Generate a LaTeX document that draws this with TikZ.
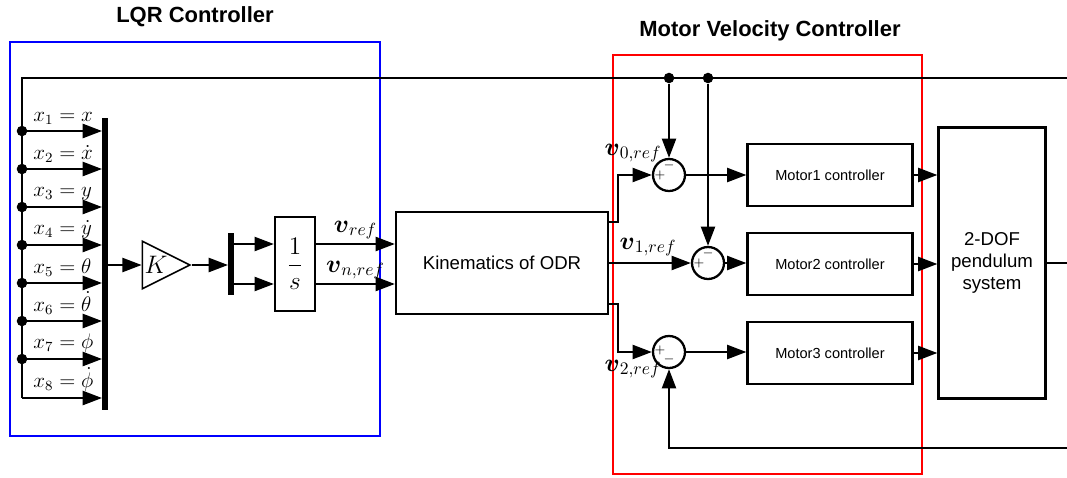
\documentclass[tikz,border=0pt]{standalone}
\usepackage{fontspec}
\usepackage{amsmath}
\setsansfont{Liberation Sans}
\usetikzlibrary{arrows.meta,shapes.geometric}

\tikzset{
  sig/.style={-{Triangle[length=11pt,width=8pt]}, line width=1.3pt},
  wire/.style={line width=1.3pt},
  blk/.style={draw, line width=1.3pt, inner sep=0pt,
    font=\sffamily\fontsize{8.3}{10}\selectfont},
  sumc/.style={draw, circle, line width=1.3pt, minimum size=0.64cm, inner sep=0pt},
  jdot/.style={circle, fill, inner sep=0pt, minimum size=6pt},
  busbar/.style={fill, inner sep=0pt, minimum width=3pt},
  sgn/.style={font=\fontsize{7}{7}\selectfont, inner sep=0pt},
  ttl/.style={font=\sffamily\bfseries\fontsize{12.5}{15}\selectfont},
  vlbl/.style={font=\Large, inner sep=1pt},
}

\begin{document}
\begin{tikzpicture}[x=0.02cm,y=-0.02cm]
\useasboundingbox (0,0) rectangle (1067,477);

% Controller frames
\draw[blue, line width=0.7pt] (10,42) rectangle (380,436);
\draw[red, line width=0.7pt] (613,55) rectangle (922,474);
\node[ttl] (lqrttl) at (195,17) {LQR Controller};
\node[ttl] (mvcttl) at (770,31) {Motor Velocity Controller};

% Loose ends at the picture edge
\coordinate (fbtl) at (22,78);
\coordinate (fbtr) at (1067,78);
\coordinate (fbbr) at (1067,448);
\coordinate (pout) at (1067,263);

% State mux
\node[busbar, minimum height=5.84cm] (bus1) at (105,264) {};
\foreach \i/\y/\lbl in {1/131/x, 2/169/\dot{x}, 3/207/y, 4/245/\dot{y},
    5/283/\theta, 6/321/\dot{\theta}, 7/359/\phi, 8/398/\dot{\phi}}{
  \coordinate (d\i) at (22,\y);
  \draw[sig] (d\i) -- (d\i -| bus1.west);
  \node[anchor=south west, inner sep=0pt, font=\fontsize{11.5}{12}\selectfont]
    (l\i) at (33,{\y-6}) {$x_{\i}=\lbl$};
}
\foreach \i in {1,...,7}
  \node[jdot] at (d\i) {};
\draw[wire] (fbtr) -- (fbtl) -- (d8);

% Gain and integrator
\node[draw, isosceles triangle, isosceles triangle stretches, line width=0.9pt,
  minimum width=0.95cm, minimum height=0.95cm, inner sep=0pt, anchor=apex,
  font=\Large] (gain) at (192,265) {$K$};
\node[busbar, minimum height=1.24cm] (bus2) at (231,264) {};
\node[blk, minimum width=0.8cm, minimum height=1.88cm, font=\Large] (integ)
  at (295,264) {$\displaystyle\frac{1}{s}$};
\draw[sig] (bus1.east |- gain.west) -- (gain.west);
\draw[sig] (gain.apex) -- (gain.apex -| bus2.west);
\draw[sig] ([yshift=0.4cm]bus2.east) -- ([yshift=0.4cm]bus2.east -| integ.west);
\draw[sig] ([yshift=-0.4cm]bus2.east) -- ([yshift=-0.4cm]bus2.east -| integ.west);

% Kinematics
\node[blk, minimum width=4.24cm, minimum height=2.04cm,
  font=\sffamily\fontsize{10.6}{12}\selectfont] (kin) at (502,263) {Kinematics of ODR};
\draw[sig] ([yshift=0.4cm]integ.east) -- ([yshift=0.4cm]integ.east -| kin.west)
  node[vlbl, midway, above=1pt] {$\boldsymbol{v}_{ref}$};
\draw[sig] ([yshift=-0.4cm]integ.east) -- ([yshift=-0.4cm]integ.east -| kin.west)
  node[vlbl, midway, above=1pt] {$\boldsymbol{v}_{n,ref}$};

% Summing junctions
\node[sumc] (s1) at (669,175) {};
\node[sumc] (s2) at (708,263) {};
\node[sumc] (s3) at (669,352) {};
\node[sgn] at ([xshift=-0.18cm]s1.center) {$+$};
\node[sgn] at ([yshift=0.19cm]s1.center) {$-$};
\node[sgn] at ([xshift=-0.18cm]s2.center) {$+$};
\node[sgn] at ([yshift=0.19cm]s2.center) {$-$};
\node[sgn] at ([xshift=-0.18cm,yshift=0.04cm]s3.center) {$+$};
\node[sgn] at ([yshift=-0.14cm]s3.center) {$-$};

\draw[sig] ([yshift=0.82cm]kin.east) -- ++(9,0) |- (s1.west);
\draw[sig] (kin.east) -- (s2.west);
\draw[sig] ([yshift=-0.82cm]kin.east) -- ++(9,0) |- (s3.west);
\node[vlbl] (v0) at (633,153) {$\boldsymbol{v}_{0,ref}$};
\node[vlbl] (v1) at (648,247) {$\boldsymbol{v}_{1,ref}$};
\node[vlbl] (v2) at (633,369) {$\boldsymbol{v}_{2,ref}$};

% Feedback into the junctions
\node[jdot] (f1) at (s1 |- fbtl) {};
\node[jdot] (f2) at (s2 |- fbtl) {};
\draw[sig] (f1) -- (s1.north);
\draw[sig] (f2) -- (s2.north);
\draw[sig] (fbbr) -| (s3.south);

% Motor controllers
\node[blk, minimum width=3.3cm, minimum height=1.24cm] (m1) at (830,175) {Motor1 controller};
\node[blk, minimum width=3.3cm, minimum height=1.24cm] (m2) at (830,264) {Motor2 controller};
\node[blk, minimum width=3.3cm, minimum height=1.24cm] (m3) at (830,353) {Motor3 controller};
\draw[sig] (s1.east) -- (s1.east -| m1.west);
\draw[sig] (s2.east) -- (s2.east -| m2.west);
\draw[sig] (s3.east) -- (s3.east -| m3.west);

% Plant
\node[blk, minimum width=2.14cm, minimum height=5.42cm, align=center,
  font=\sffamily\fontsize{10.6}{12.5}\selectfont] (pend) at (992,263)
  {2-DOF\\pendulum\\system};
\draw[sig] (m1.east) -- (m1.east -| pend.west);
\draw[sig] (m2.east) -- (m2.east -| pend.west);
\draw[sig] (m3.east) -- (m3.east -| pend.west);
\draw[wire] (pend.east) -- (pend.east -| pout);

\end{tikzpicture}
\end{document}
